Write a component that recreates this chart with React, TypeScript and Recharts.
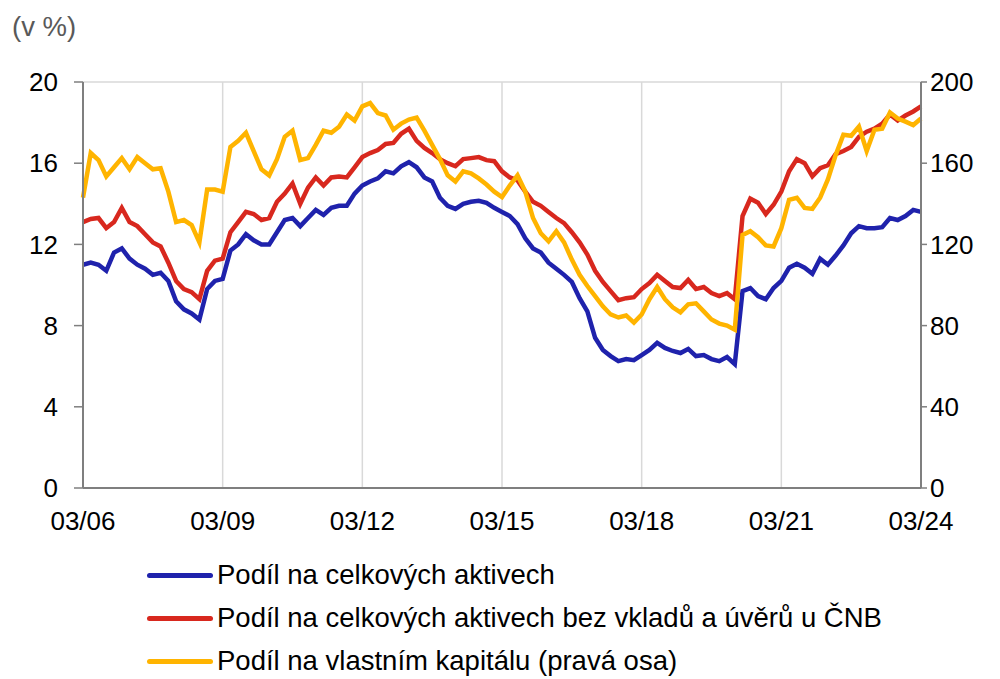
import React from 'react';
import { LineChart, Line, XAxis, YAxis, CartesianGrid } from 'recharts';

// two-month steps, 03/06 .. 03/24
const dates: string[] = [];
for (let i = 0; i < 109; i++) {
  const m = 2 + i * 2;
  const yy = (2006 + Math.floor(m / 12)) % 100;
  const mm = (m % 12) + 1;
  dates.push(`${String(mm).padStart(2, '0')}/${String(yy).padStart(2, '0')}`);
}

const xTicks = ['03/06', '03/09', '03/12', '03/15', '03/18', '03/21', '03/24'];
const leftTicks = [0, 4, 8, 12, 16, 20];
const rightTicks = [0, 40, 80, 120, 160, 200];

// Podíl na celkových aktivech (%)
const assetsShare = [
  11.0, 11.1, 11.0, 10.7, 11.6, 11.8, 11.3, 11.0, 10.8, 10.5,
  10.6, 10.2, 9.2, 8.8, 8.6, 8.3, 9.8, 10.2, 10.3, 11.7,
  12.0, 12.5, 12.2, 12.0, 12.0, 12.6, 13.2, 13.3, 12.9, 13.3,
  13.7, 13.45, 13.8, 13.9, 13.9, 14.5, 14.9, 15.1, 15.25, 15.6,
  15.5, 15.85, 16.05, 15.8, 15.3, 15.1, 14.3, 13.9, 13.75, 14.0,
  14.1, 14.15, 14.05, 13.8, 13.6, 13.4, 13.0, 12.3, 11.8, 11.6,
  11.1, 10.8, 10.5, 10.15, 9.35, 8.7, 7.4, 6.8, 6.5, 6.25,
  6.35, 6.3, 6.55, 6.8, 7.15, 6.9, 6.75, 6.65, 6.85, 6.5,
  6.55, 6.35, 6.25, 6.45, 6.1, 9.7, 9.85, 9.45, 9.3, 9.85,
  10.2, 10.85, 11.05, 10.85, 10.55, 11.3, 11.0, 11.45, 11.95, 12.55,
  12.9, 12.8, 12.8, 12.85, 13.3, 13.2, 13.4, 13.7, 13.6,
];

// Podíl na celkových aktivech bez vkladů a úvěrů u ČNB (%)
const assetsExCnb = [
  13.1, 13.25, 13.3, 12.8, 13.1, 13.8, 13.1, 12.9, 12.5, 12.1,
  11.9, 11.1, 10.2, 9.8, 9.65, 9.3, 10.7, 11.2, 11.3, 12.6,
  13.1, 13.6, 13.5, 13.2, 13.3, 14.1, 14.5, 15.0, 14.0, 14.8,
  15.3, 14.9, 15.3, 15.35, 15.3, 15.8, 16.3, 16.5, 16.65, 16.95,
  17.0, 17.45, 17.7, 17.1, 16.75, 16.5, 16.2, 16.0, 15.85, 16.2,
  16.25, 16.3, 16.15, 16.1, 15.6, 15.3, 15.15, 14.6, 14.1, 13.9,
  13.6, 13.3, 13.05, 12.6, 12.1, 11.5, 10.7, 10.15, 9.7, 9.25,
  9.35, 9.4, 9.8, 10.1, 10.5, 10.2, 9.9, 9.85, 10.25, 9.8,
  9.9, 9.6, 9.45, 9.6, 9.3, 13.4, 14.25, 14.05, 13.5, 13.95,
  14.6, 15.6, 16.2, 16.0, 15.35, 15.75, 15.9, 16.45, 16.6, 16.8,
  17.3, 17.55, 17.7, 17.95, 18.4, 18.1, 18.35, 18.55, 18.8,
];

// Podíl na vlastním kapitálu (%, pravá osa)
const equityShare = [
  143, 165, 161.5, 153.5, 158, 162.5, 157, 163, 160, 157,
  157.5, 146, 131, 132, 129.5, 121, 147, 147, 146, 168,
  171, 175, 166, 157, 154, 162, 173, 176, 161.6, 162.5,
  169, 176, 175, 178, 184, 181, 188, 189.6, 184.7, 183.5,
  176.5, 179.5, 181.5, 182.5, 176, 169, 162, 154, 151, 156,
  155, 152.5, 149.5, 146, 143.3, 149, 154, 146, 133, 125.5,
  121.5, 126.5, 121, 112.5, 105, 99.5, 94.5, 89.5, 85.5, 84,
  85, 81.5, 85.5, 93, 99, 93, 89, 86.5, 90.5, 91,
  87, 83, 81, 80, 78, 124.6, 126.5, 123.5, 119.5, 119,
  128, 142, 143, 138, 137.5, 143, 152, 164, 174, 173.5,
  178, 166, 176.5, 177, 185, 182, 180.5, 178.8, 182,
];

const data = dates.map((d, i) => ({
  date: d,
  assets: assetsShare[i],
  exCnb: assetsExCnb[i],
  equity: equityShare[i],
}));

const FONT = '"Liberation Sans", Arial, sans-serif';
const BLUE = '#1f22ac';
const RED = '#d8281e';
const YELLOW = '#ffb400';

const legendItems = [
  { label: 'Podíl na celkových aktivech', color: BLUE },
  { label: 'Podíl na celkových aktivech bez vkladů a úvěrů u ČNB', color: RED },
  { label: 'Podíl na vlastním kapitálu (pravá osa)', color: YELLOW },
];

const tickStyle = { fill: '#000', fontSize: 26, fontFamily: FONT };

export default function App() {
  return (
    <div style={{ position: 'relative', width: 984, height: 671, fontFamily: FONT }}>
      <div style={{ position: 'absolute', left: 4, top: 3, fontSize: 27.5, color: '#595959' }}>(v %)</div>
      <LineChart
        width={984}
        height={560}
        data={data}
        margin={{ top: 74, right: 0, bottom: 40, left: 0 }}
      >
        <CartesianGrid stroke="#d9d9d9" strokeWidth={1.5} />
        <XAxis
          dataKey="date"
          ticks={xTicks}
          interval={0}
          tick={tickStyle}
          tickLine={false}
          tickSize={0}
          tickMargin={24}
          height={40}
          axisLine={{ stroke: '#7f7f7f', strokeWidth: 2 }}
        />
        <YAxis
          yAxisId="left"
          domain={[0, 20]}
          ticks={leftTicks}
          width={75}
          tick={tickStyle}
          tickSize={9}
          tickMargin={16}
          tickLine={{ stroke: '#7f7f7f', strokeWidth: 1.5 }}
          axisLine={{ stroke: '#7f7f7f', strokeWidth: 2 }}
        />
        <YAxis
          yAxisId="right"
          orientation="right"
          domain={[0, 200]}
          ticks={rightTicks}
          width={71}
          tick={tickStyle}
          tickSize={6}
          tickMargin={3}
          tickLine={{ stroke: '#7f7f7f', strokeWidth: 1.5 }}
          axisLine={{ stroke: '#7f7f7f', strokeWidth: 2 }}
        />
        <Line yAxisId="left" type="linear" dataKey="assets" stroke={BLUE} strokeWidth={4.5} dot={false} isAnimationActive={false} />
        <Line yAxisId="left" type="linear" dataKey="exCnb" stroke={RED} strokeWidth={4.5} dot={false} isAnimationActive={false} />
        <Line yAxisId="right" type="linear" dataKey="equity" stroke={YELLOW} strokeWidth={4.5} dot={false} isAnimationActive={false} />
      </LineChart>
      {legendItems.map((it, i) => (
        <div
          key={it.label}
          style={{ position: 'absolute', left: 139, top: 551 + i * 43, height: 32, display: 'flex', alignItems: 'center' }}
        >
          <span style={{ display: 'inline-block', width: 66, height: 5, borderRadius: 3, background: it.color, marginRight: 4 }} />
          <span style={{ fontSize: 27.5, color: '#000', whiteSpace: 'nowrap' }}>{it.label}</span>
        </div>
      ))}
    </div>
  );
}
